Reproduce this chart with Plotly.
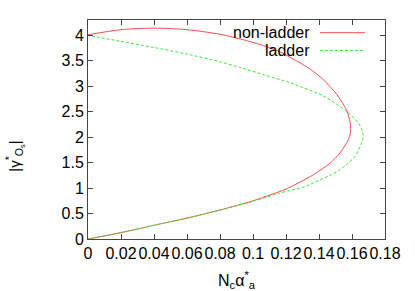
import plotly.graph_objects as go

# non-ladder curve (traced from origin, around the nose, back to x=0)
nonladder_x = [0, 0.02, 0.04, 0.06, 0.08, 0.10, 0.116, 0.12, 0.1365, 0.1467, 0.1527, 0.1578,
               0.1590, 0.1592, 0.1585, 0.1566, 0.1507, 0.1426, 0.1340, 0.1224, 0.116, 0.108,
               0.10, 0.092, 0.08, 0.06, 0.04, 0.02, 0]
nonladder_y = [0, 0.125, 0.27, 0.41, 0.57, 0.75, 0.93, 0.98, 1.26, 1.49, 1.69, 1.95,
               2.07, 2.17, 2.35, 2.54, 2.84, 3.13, 3.35, 3.57, 3.68, 3.78,
               3.86, 3.93, 4.02, 4.11, 4.14, 4.11, 4.01]

# ladder curve
ladder_x = [0, 0.02, 0.04, 0.06, 0.08, 0.10, 0.116, 0.1315, 0.1365, 0.1467, 0.1527, 0.1566,
            0.1618, 0.1640, 0.1655, 0.1665, 0.1668, 0.1660, 0.1638, 0.1578, 0.1426, 0.1305,
            0.1224, 0.107, 0.092, 0.08, 0.06, 0.04, 0.02, 0]
ladder_y = [0, 0.125, 0.27, 0.41, 0.565, 0.74, 0.90, 1.03, 1.10, 1.25, 1.36, 1.46,
            1.62, 1.75, 1.86, 1.95, 2.03, 2.15, 2.28, 2.48, 2.81, 2.97,
            3.07, 3.22, 3.37, 3.48, 3.63, 3.76, 3.88, 4.0]

x_ticks = [0, 0.02, 0.04, 0.06, 0.08, 0.1, 0.12, 0.14, 0.16, 0.18]
x_tick_labels = ["0", "0.02", "0.04", "0.06", "0.08", "0.1", "0.12", "0.14", "0.16", "0.18"]
y_ticks = [0, 0.5, 1, 1.5, 2, 2.5, 3, 3.5, 4]
y_tick_labels = ["0", "0.5", "1", "1.5", "2", "2.5", "3", "3.5", "4"]
series_names = ["non-ladder", "ladder"]
x_title = "N<sub>c</sub>α<sup>*</sup><sub>a</sub>"
y_title = "|γ<sup>*</sup><sub>O<sub>s</sub></sub>|"

RED = "#ff4a4a"
GREEN = "#3ae83a"
FONT = "Liberation Sans, Arial, sans-serif"

fig = go.Figure()
fig.add_trace(go.Scatter(x=nonladder_x, y=nonladder_y, mode="lines", name=series_names[0],
                         line=dict(color=RED, width=1, shape="spline", smoothing=0.8)))
fig.add_trace(go.Scatter(x=ladder_x, y=ladder_y, mode="lines", name=series_names[1],
                         line=dict(color=GREEN, width=1, dash="3px,2px", shape="spline", smoothing=0.8)))

# gnuplot-style key: text right-aligned, then the line sample
key_rows = [(series_names[0], RED, "solid", 0.942), (series_names[1], GREEN, "3px,2px", 0.861)]
for name, col, dash, yy in key_rows:
    fig.add_annotation(xref="paper", yref="paper", x=0.742, y=yy, text=name, showarrow=False,
                       xanchor="right", yanchor="middle", xshift=4,
                       font=dict(size=16, color="black", family=FONT))
    fig.add_shape(type="line", xref="paper", yref="paper", x0=0.781, x1=0.933, y0=yy, y1=yy,
                  line=dict(color=col, width=1, dash=dash))

# y axis title as a rotated annotation centred on the plot height
fig.add_annotation(xref="paper", yref="paper", x=-0.246, y=0.49, yshift=-24, text=y_title,
                   showarrow=False, textangle=-90, xanchor="center", yanchor="middle",
                   font=dict(size=15, color="black", family=FONT))

axis_common = dict(showline=True, linecolor="#444444", linewidth=1, mirror="ticks",
                   ticks="inside", ticklen=5, tickcolor="#444444", showgrid=False, zeroline=False,
                   automargin=False, tickangle=0,
                   tickfont=dict(size=16, color="black", family=FONT))

fig.update_layout(
    width=415, height=291,
    margin=dict(l=88, r=30, t=20, b=52),
    paper_bgcolor="white", plot_bgcolor="white",
    showlegend=False,
    font=dict(family=FONT, size=16, color="black"),
    xaxis=dict(range=[0, 0.18], tickvals=x_ticks, ticktext=x_tick_labels,
               title=dict(text=x_title, standoff=17,
                          font=dict(size=16, family=FONT)), **axis_common),
    yaxis=dict(range=[0, 4.3], tickvals=y_ticks, ticktext=y_tick_labels, **axis_common),
)

fig.write_html("out.html", config={"displayModeBar": False},
               post_script="document.body.style.margin='0';document.body.style.padding='0';")
